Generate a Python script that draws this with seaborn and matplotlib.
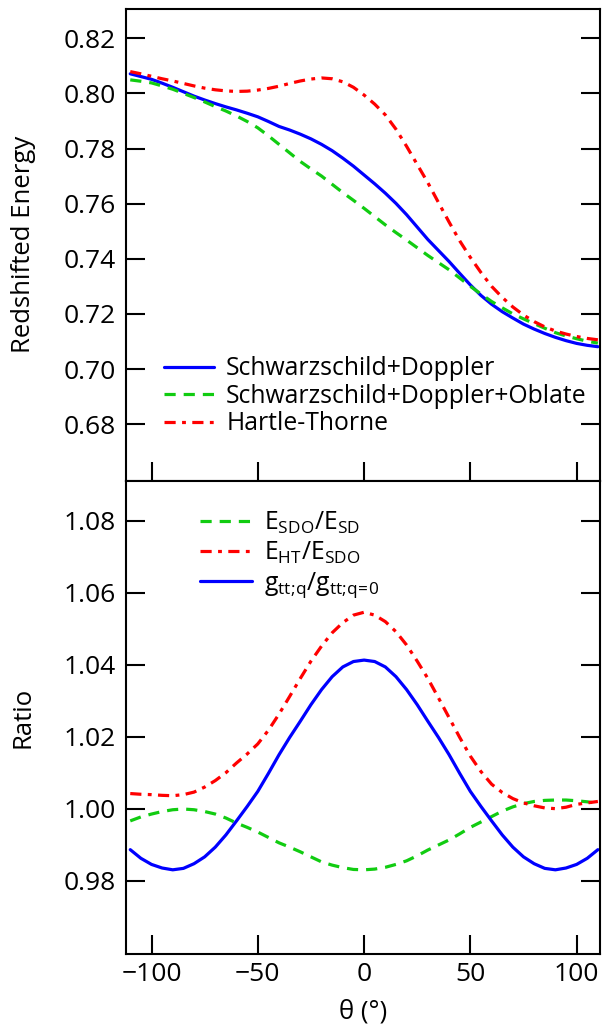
import numpy as np
import pandas as pd
import seaborn as sns
from matplotlib import pyplot as plt

theta = list(range(-110, 111, 5))

# top panel: redshifted energy
e_sd = [0.8071, 0.8061, 0.8051, 0.8037, 0.8022, 0.8006, 0.7990, 0.7976, 0.7963, 0.7951, 0.7940, 0.7928,
        0.7915, 0.7898, 0.7880, 0.7867, 0.7852, 0.7835, 0.7815, 0.7792, 0.7765, 0.7736, 0.7704,
        0.7672, 0.7638, 0.7601, 0.7560, 0.7515, 0.7470, 0.7430, 0.7390, 0.7347, 0.7305, 0.7267,
        0.7235, 0.7208, 0.7185, 0.7163, 0.7145, 0.7129, 0.7115, 0.7103, 0.7093, 0.7086, 0.7081]
e_sdo = [0.8049, 0.8044, 0.8038, 0.8027, 0.8015, 0.8000, 0.7985, 0.7969, 0.7952, 0.7936, 0.7918, 0.7898,
         0.7875, 0.7846, 0.7815, 0.7784, 0.7753, 0.7726, 0.7700, 0.7670, 0.7640, 0.7612, 0.7583,
         0.7553, 0.7523, 0.7495, 0.7468, 0.7440, 0.7412, 0.7386, 0.7360, 0.7330, 0.7300, 0.7272,
         0.7245, 0.7222, 0.7200, 0.7182, 0.7165, 0.7148, 0.7132, 0.7120, 0.7110, 0.7101, 0.7094]
e_ht = [0.8079, 0.8071, 0.8062, 0.8053, 0.8045, 0.8036, 0.8027, 0.8019, 0.8013, 0.8009, 0.8007, 0.8008,
        0.8012, 0.8018, 0.8026, 0.8036, 0.8045, 0.8052, 0.8056, 0.8053, 0.8042, 0.8022, 0.7994,
        0.7961, 0.7922, 0.7870, 0.7808, 0.7742, 0.7676, 0.7604, 0.7533, 0.7465, 0.7405, 0.7350,
        0.7300, 0.7260, 0.7225, 0.7196, 0.7172, 0.7153, 0.7138, 0.7127, 0.7118, 0.7111, 0.7106]

# bottom panel: ratios
r_sdo_sd = [0.9966, 0.9977, 0.9985, 0.9992, 0.9997, 0.9999, 0.9997, 0.9992, 0.9985, 0.9974, 0.9960, 0.9948,
            0.9935, 0.9920, 0.9905, 0.9893, 0.9880, 0.9866, 0.9852, 0.9843, 0.9836, 0.9831, 0.9830,
            0.9832, 0.9837, 0.9845, 0.9855, 0.9869, 0.9885, 0.9899, 0.9913, 0.9930, 0.9948, 0.9963,
            0.9978, 0.9993, 1.0005, 1.0014, 1.0020, 1.0023, 1.0024, 1.0024, 1.0022, 1.0019, 1.0015]
r_ht_sdo = [1.0042, 1.0040, 1.0039, 1.0037, 1.0036, 1.0039, 1.0046, 1.0060, 1.0078, 1.0100, 1.0127, 1.0152,
            1.0180, 1.0218, 1.0263, 1.0312, 1.0362, 1.0410, 1.0452, 1.0489, 1.0517, 1.0538, 1.0546,
            1.0538, 1.0520, 1.0492, 1.0455, 1.0410, 1.0362, 1.0308, 1.0253, 1.0198, 1.0146, 1.0103,
            1.0068, 1.0045, 1.0028, 1.0016, 1.0008, 1.0002, 1.0000, 1.0004, 1.0012, 1.0016, 1.0020]
r_gtt = [0.9886, 0.9862, 0.9845, 0.9835, 0.9830, 0.9834, 0.9847, 0.9866, 0.9893, 0.9927, 0.9966, 1.0006,
         1.0048, 1.0098, 1.0150, 1.0198, 1.0243, 1.0289, 1.0331, 1.0367, 1.0394, 1.0409, 1.0413,
         1.0409, 1.0394, 1.0367, 1.0331, 1.0289, 1.0243, 1.0198, 1.0150, 1.0098, 1.0048, 1.0006,
         0.9966, 0.9927, 0.9893, 0.9866, 0.9847, 0.9834, 0.9830, 0.9835, 0.9845, 0.9862, 0.9886]

top_labels = ["Schwarzschild+Doppler", "Schwarzschild+Doppler+Oblate", "Hartle-Thorne"]
bottom_labels = [r"E$_{\mathregular{SDO}}$/E$_{\mathregular{SD}}$",
                 r"E$_{\mathregular{HT}}$/E$_{\mathregular{SDO}}$",
                 r"g$_{\mathregular{tt;\!q}}$/g$_{\mathregular{tt;\!q\!=\!0}}$"]

BLUE = "#0000ff"
GREEN = "#11cc11"
RED = "#ff0000"
DASH = (0, (3.5, 2.5))
DASHDOT = (0, (3.5, 2.0, 1.2, 2.0))


def style_axes(ax, show_xlabels):
    ax.set_xlim(-112, 111)
    ax.set_xticks([-100, -50, 0, 50, 100])
    ax.tick_params(axis="both", direction="in", length=14, width=1.5, labelsize=19, pad=7,
                   color="black", labelcolor="black")
    ax.tick_params(axis="y", left=True, right=True)
    ax.tick_params(axis="x", bottom=True, top=False, labelbottom=show_xlabels, pad=6)
    for sp in ax.spines.values():
        sp.set_linewidth(1.5)
        sp.set_color("black")
        sp.set_visible(True)


def main():
    sns.set_style("ticks")
    plt.rcParams["font.family"] = ["Open Sans", "DejaVu Sans"]
    plt.rcParams["mathtext.fontset"] = "custom"
    plt.rcParams["mathtext.rm"] = "Open Sans"
    plt.rcParams["text.color"] = "black"
    plt.rcParams["axes.labelcolor"] = "black"

    fig = plt.figure(figsize=(6.02, 10.29), dpi=100)
    ax1 = fig.add_axes([0.2093, 0.5326, 0.7874, 0.4589])
    ax2 = fig.add_axes([0.2093, 0.0729, 0.7874, 0.4597])

    lw = 2.3
    sns.lineplot(x=theta, y=e_sd, ax=ax1, color=BLUE, lw=lw, label=top_labels[0])
    sns.lineplot(x=theta, y=e_sdo, ax=ax1, color=GREEN, lw=lw, linestyle=DASH, label=top_labels[1])
    sns.lineplot(x=theta, y=e_ht, ax=ax1, color=RED, lw=lw, linestyle=DASHDOT, label=top_labels[2])

    sns.lineplot(x=theta, y=r_sdo_sd, ax=ax2, color=GREEN, lw=lw, linestyle=DASH, label=bottom_labels[0])
    sns.lineplot(x=theta, y=r_ht_sdo, ax=ax2, color=RED, lw=lw, linestyle=DASHDOT, label=bottom_labels[1])
    sns.lineplot(x=theta, y=r_gtt, ax=ax2, color=BLUE, lw=lw, label=bottom_labels[2])

    ax1.set_ylim(0.6594, 0.8307)
    ax1.set_yticks([0.68, 0.70, 0.72, 0.74, 0.76, 0.78, 0.80, 0.82])
    ax1.set_yticklabels([f"{v:.2f}" for v in ax1.get_yticks()])
    ax2.set_ylim(0.9596, 1.0911)
    ax2.set_yticks([0.98, 1.00, 1.02, 1.04, 1.06, 1.08])
    ax2.set_yticklabels([f"{v:.2f}" for v in ax2.get_yticks()])

    style_axes(ax1, False)
    style_axes(ax2, True)

    ax1.set_ylabel("Redshifted Energy", fontsize=18.5)
    ax2.set_ylabel("Ratio", fontsize=18.5)
    ax1.yaxis.set_label_coords(-0.19, 0.5)
    ax2.yaxis.set_label_coords(-0.19, 0.5)
    ax1.set_xlabel("")
    ax2.set_xlabel("θ (°)", fontsize=18.5, labelpad=9)

    ax1.legend(loc="upper left", bbox_to_anchor=(0.06, 0.285), frameon=False, fontsize=17.8,
               handlelength=2.0, handletextpad=0.5, labelspacing=0.1, borderaxespad=0)
    ax2.legend(loc="upper left", bbox_to_anchor=(0.135, 0.96), frameon=False, fontsize=17.8,
               handlelength=2.1, handletextpad=0.5, labelspacing=0.16, borderaxespad=0)

    fig.savefig("out.png", dpi=100)
    plt.close(fig)


if __name__ == "__main__":
    main()
